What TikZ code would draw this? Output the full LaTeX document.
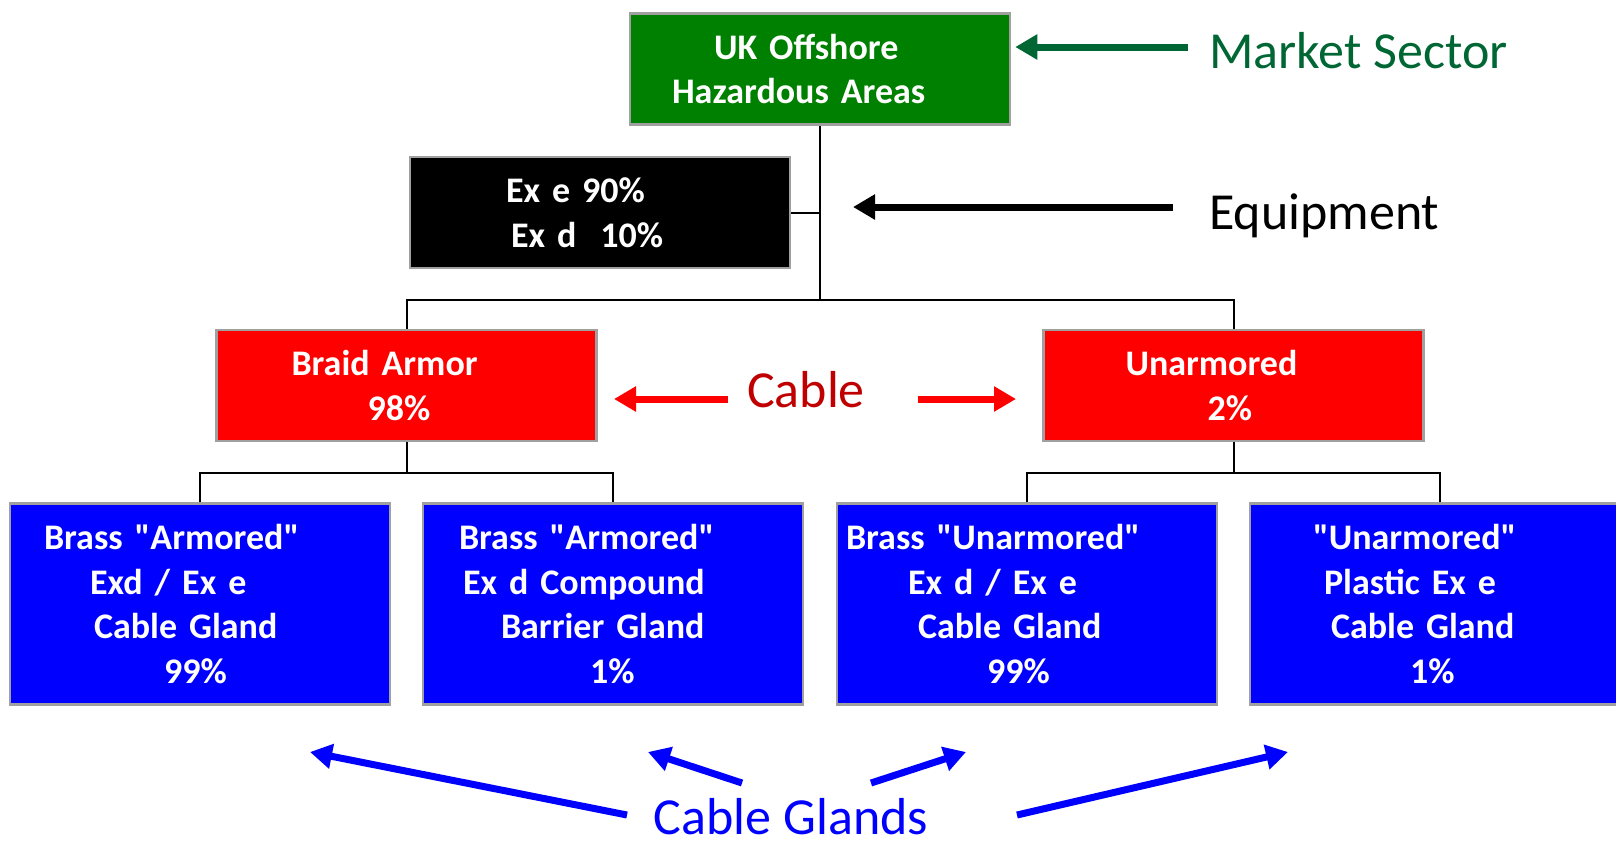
\documentclass[tikz,border=0pt]{standalone}
\usepackage{fontspec}
\newfontfamily\calfont{Carlito}
\usetikzlibrary{arrows.meta}
\definecolor{boxgreen}{RGB}{0,128,0}
\definecolor{mkgreen}{RGB}{0,102,51}
\definecolor{cablered}{RGB}{192,0,0}
\definecolor{boxgray}{RGB}{160,160,160}
\newcommand{\boxfont}{\calfont\fontsize{36}{44.5}\selectfont\bfseries}
\newcommand{\lblfont}{\calfont\fontsize{52}{62}\selectfont}

\begin{document}
\begin{tikzpicture}[
        x=1pt, y=-1pt,
        boxn/.style={draw=boxgray, line width=2.5pt, text=white, font=\boxfont,
            text width=380pt, align=left, inner sep=0pt, minimum height=111pt},
        greenn/.style={boxn, fill=boxgreen},
        blackn/.style={boxn, fill=black},
        redn/.style={boxn, fill=red},
        bluen/.style={boxn, fill=blue, minimum height=201pt},
        lbl/.style={font=\lblfont, inner sep=0pt},
        pointer/.style={line width=7pt, -{Triangle[length=22pt,width=24pt]}},
        edge from parent/.style={draw, line width=2pt},
        edge from parent path={(\tikzchildnode.north) -- ++(0,-29) -| (\tikzparentnode.south)},
        level 1/.style={sibling distance=827pt, level distance=316.5pt},
        level 2/.style={sibling distance=413pt, level distance=218.5pt},
    ]
    \useasboundingbox (0,0) rectangle (1616,844);
    \clip (0,0) rectangle (1616,844);

    \node[greenn](sector) at (820,69) {\hspace*{84pt}UK Offshore\\\hspace*{42pt}Hazardous Areas}
    child{node[redn](braid){\hspace*{75pt}Braid Armor\\\hspace*{151pt}98\%}
        child{node[bluen](armgland){\hspace*{34pt}Brass "Armored"\\\hspace*{80pt}Exd / Ex e\\\hspace*{84pt}Cable Gland\\\hspace*{154pt}99\%}}
        child{node[bluen](barrier){\hspace*{36pt}Brass "Armored"\\\hspace*{40pt}Ex d Compound\\\hspace*{78pt}Barrier Gland\\\hspace*{167pt}1\%}}
    }
    child{node[redn](unarm){\hspace*{82pt}Unarmored\\\hspace*{164pt}2\%}
        child{node[bluen](unarmgland){\hspace*{9pt}Brass "Unarmored"\\\hspace*{71pt}Ex d / Ex e\\\hspace*{81pt}Cable Gland\\\hspace*{150pt}99\%}}
        child{node[bluen](plastic){\hspace*{63pt}"Unarmored"\\\hspace*{74pt}Plastic Ex e\\\hspace*{81pt}Cable Gland\\\hspace*{160pt}1\%}}
    }
    ;

    % equipment split hangs off the trunk
    \node[blackn](equip) at (600,212.5) {\hspace*{96pt}Ex e 90\%\\\hspace*{101pt}Ex d\ \ 10\%};
    \draw[line width=2pt] (equip.east) -- (equip.east -| sector.south);

    % labels
    \node[lbl, text=mkgreen, anchor=base west](sectorlbl) at (1209,68) {Market Sector};
    \node[lbl, anchor=base west](equiplbl) at (1209,229) {Equipment};
    \node[lbl, text=cablered, anchor=base](cablelbl) at (806,407) {Cable};
    \node[lbl, text=blue, anchor=base, text depth=0pt](glandlbl) at (791,834) {Cable Glands};

    % pointers
    \coordinate (mstail) at (1188,47);
    \draw[pointer, mkgreen, shorten >=4pt] (mstail) -- (mstail -| sector.east);
    \coordinate (eqtail) at (1173,207);
    \coordinate (eqtip) at (853,207);
    \draw[pointer] (eqtail) -- (eqtip);
    \coordinate (cbtail1) at (728,399);
    \coordinate (cbtip1) at (614,399);
    \coordinate (cbtail2) at (918,399);
    \coordinate (cbtip2) at (1016,399);
    \draw[pointer, red] (cbtail1) -- (cbtip1);
    \draw[pointer, red] (cbtail2) -- (cbtip2);
    \coordinate (gtail1) at (627,815);
    \coordinate (gtip1) at (310,752);
    \coordinate (gtail2) at (742,783);
    \coordinate (gtip2) at (648,752);
    \coordinate (gtail3) at (871,783);
    \coordinate (gtip3) at (966,752);
    \coordinate (gtail4) at (1017,815);
    \coordinate (gtip4) at (1288,752);
    \foreach \i in {1,...,4}
        \draw[pointer, blue] (gtail\i) -- (gtip\i);
\end{tikzpicture}
\end{document}
